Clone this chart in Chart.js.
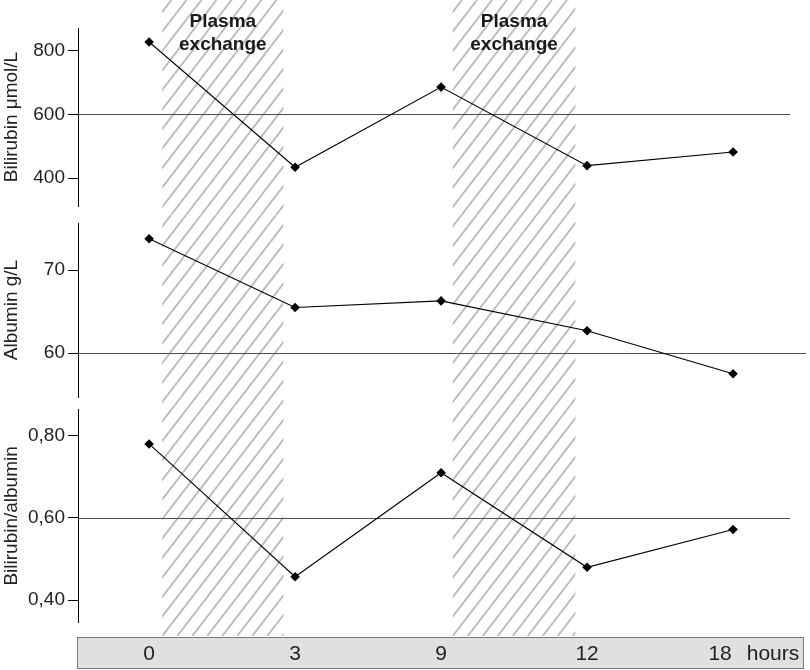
<!DOCTYPE html>
<html><head><meta charset="utf-8">
<script src="https://cdn.jsdelivr.net/npm/chart.js@4"></script>
<style>
html,body{margin:0;padding:0;background:#fff;}
#wrap{position:relative;width:810px;height:670px;overflow:hidden;}
canvas{position:absolute;left:0;}
</style>
</head><body>
<div id="wrap">
<canvas id="c1" width="810" height="215" style="top:0px"></canvas>
<canvas id="c2" width="810" height="190" style="top:215px"></canvas>
<canvas id="c3" width="810" height="265" style="top:405px"></canvas>
</div>
<script>
// ---- data ----
const hours = ['0', '3', '9', '12', '18'];
const hoursUnit = 'hours';
const bilirubin = [828, 434, 686, 439, 482];
const albumin = [73.8, 65.5, 66.3, 62.7, 57.5];
const ratio = [0.78, 0.457, 0.71, 0.48, 0.572];
const bilirubinTicks = [400, 600, 800];
const bilirubinTickLabels = ['400', '600', '800'];
const albuminTicks = [60, 70];
const albuminTickLabels = ['60', '70'];
const ratioTicks = [0.40, 0.60, 0.80];
const ratioTickLabels = ['0,40', '0,60', '0,80'];
const bandStart = [0.09, 2.08];
const bandEnd = [0.92, 2.92];
const bandText = ['Plasma', 'exchange'];

// ---- style / layout ----
const FONT = "'Liberation Sans', Arial, Helvetica, sans-serif";
const HATCH_BOTTOM = 636;
const BOX_TOP = 637, BOX_BOTTOM = 669, BOX_LEFT = 77, BOX_RIGHT = 804;

Chart.defaults.font.family = FONT;
Chart.defaults.font.size = 19;
Chart.defaults.color = '#222';

function drawHatch(chart, top) {
  const ctx = chart.ctx, xs = chart.scales.x;
  const yB = HATCH_BOTTOM - top;
  const H = Math.min(yB, chart.height);
  const slope = 1.3, period = 15;
  for (let b = 0; b < bandStart.length; b++) {
    const x1 = xs.getPixelForValue(bandStart[b]);
    const x2 = xs.getPixelForValue(bandEnd[b]);
    ctx.save();
    ctx.beginPath();
    ctx.rect(x1, 0, x2 - x1, H);
    ctx.clip();
    ctx.strokeStyle = '#b9b9b9';
    ctx.lineWidth = 1.8;
    const kMin = Math.floor(-(yB / slope) / period) - 2;
    const kMax = Math.ceil((x2 - x1) / period) + 2;
    ctx.beginPath();
    for (let k = kMin; k <= kMax; k++) {
      const xa = x1 + k * period + (yB - 0) / slope;
      const xb = x1 + k * period + (yB - H) / slope;
      ctx.moveTo(xa, 0);
      ctx.lineTo(xb, H);
    }
    ctx.stroke();
    ctx.restore();
  }
}

function makeChart(id, cfg) {
  const panelPlugin = {
    id: 'panel_' + id,
    beforeDatasetsDraw(chart) {
      drawHatch(chart, cfg.top);
      const ctx = chart.ctx, ys = chart.scales.y;
      const y = Math.round(ys.getPixelForValue(cfg.ref)) + 0.5;
      ctx.save();
      ctx.strokeStyle = '#4d4d4d';
      ctx.lineWidth = 1.1;
      ctx.beginPath();
      ctx.moveTo(chart.chartArea.left, y);
      ctx.lineTo(cfg.refEnd, y);
      ctx.stroke();
      ctx.restore();
    },
    afterDraw(chart) {
      if (cfg.after) cfg.after(chart);
    }
  };
  return new Chart(document.getElementById(id), {
    type: 'line',
    data: {
      datasets: [{
        data: cfg.values.map((v, i) => ({ x: i, y: v })),
        borderColor: '#000',
        borderWidth: 1.1,
        backgroundColor: '#000',
        pointStyle: 'rectRot',
        pointRadius: 4.8,
        pointBackgroundColor: '#000',
        pointBorderColor: '#000',
        pointBorderWidth: 0,
        tension: 0,
        fill: false,
        clip: false
      }]
    },
    options: {
      responsive: false,
      animation: false,
      devicePixelRatio: 1,
      events: [],
      layout: { padding: { top: cfg.padTop, bottom: cfg.padBottom, left: 0, right: 20 } },
      plugins: { legend: { display: false }, tooltip: { enabled: false } },
      scales: {
        x: { type: 'linear', min: -0.487, max: 4.39, display: false },
        y: {
          position: 'left',
          min: cfg.min, max: cfg.max,
          afterBuildTicks(s) { s.ticks = cfg.ticks.map(v => ({ value: v })); },
          afterFit(s) { s.width = 78; s.paddingTop = 0; s.paddingBottom = 0; },
          ticks: {
            padding: 3,
            color: '#222',
            font: { size: 19 },
            callback(v) { const i = cfg.ticks.indexOf(v); return i >= 0 ? cfg.tickLabels[i] : ''; }
          },
          grid: { drawOnChartArea: false, drawTicks: true, tickLength: 10, color: '#000', lineWidth: 1 },
          border: { display: true, color: '#000', width: 1 },
          title: { display: true, text: cfg.title, padding: 0, color: '#222', font: { size: 19 } }
        }
      }
    },
    plugins: [panelPlugin]
  });
}

makeChart('c1', {
  top: 0, padTop: 28, padBottom: 9,
  values: bilirubin, min: 312, max: 872, ticks: bilirubinTicks, tickLabels: bilirubinTickLabels,
  ref: 600, refEnd: 790, title: 'Bilirubin μmol/L',
  after(chart) {
    const ctx = chart.ctx, xs = chart.scales.x;
    ctx.save();
    ctx.fillStyle = '#1a1a1a';
    ctx.font = 'bold 19px ' + FONT;
    ctx.textAlign = 'center';
    ctx.textBaseline = 'alphabetic';
    for (let b = 0; b < bandStart.length; b++) {
      const cx = (xs.getPixelForValue(bandStart[b]) + xs.getPixelForValue(bandEnd[b])) / 2;
      ctx.fillText(bandText[0], cx, 27);
      ctx.fillText(bandText[1], cx, 50);
    }
    ctx.restore();
  }
});

makeChart('c2', {
  top: 215, padTop: 8, padBottom: 8,
  values: albumin, min: 54.7, max: 75.7, ticks: albuminTicks, tickLabels: albuminTickLabels,
  ref: 60, refEnd: 806, title: 'Albumin g/L'
});

makeChart('c3', {
  top: 405, padTop: 3, padBottom: 48,
  values: ratio, min: 0.347, max: 0.863, ticks: ratioTicks, tickLabels: ratioTickLabels,
  ref: 0.60, refEnd: 790, title: 'Bilirubin/albumin',
  after(chart) {
    const ctx = chart.ctx, xs = chart.scales.x;
    const top = 405;
    const y0 = BOX_TOP - top, y1 = BOX_BOTTOM - top;
    ctx.save();
    ctx.fillStyle = '#e0e0e0';
    ctx.fillRect(BOX_LEFT, y0, BOX_RIGHT - BOX_LEFT, y1 - y0);
    ctx.strokeStyle = '#7a7a7a';
    ctx.lineWidth = 1;
    ctx.strokeRect(BOX_LEFT + 0.5, y0 + 0.5, BOX_RIGHT - BOX_LEFT - 1, y1 - y0 - 1);
    ctx.fillStyle = '#222';
    ctx.font = '21px ' + FONT;
    ctx.textBaseline = 'middle';
    ctx.textAlign = 'center';
    const yc = (y0 + y1) / 2 + 1;
    for (let i = 0; i < hours.length; i++) {
      let x = xs.getPixelForValue(i);
      if (i === hours.length - 1) {
        x -= 13;
        ctx.textAlign = 'center';
        ctx.fillText(hours[i], x, yc);
        const w = ctx.measureText(hours[i]).width;
        ctx.textAlign = 'left';
        ctx.fillText(hoursUnit, x + w / 2 + 15, yc);
      } else {
        ctx.fillText(hours[i], x, yc);
      }
    }
    ctx.restore();
  }
});
</script>
</body></html>
